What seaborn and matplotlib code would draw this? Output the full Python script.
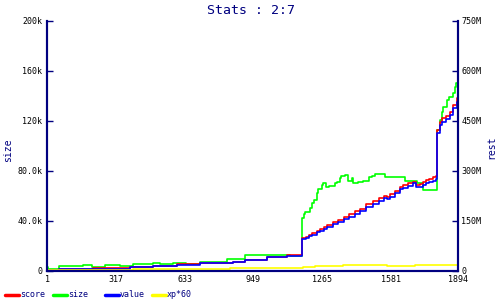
import numpy as np
import pandas as pd
import seaborn as sns
import matplotlib.pyplot as plt
from matplotlib.lines import Line2D

# ---- data (values in thousands) ----
step_x = [1, 55, 212, 381, 488, 596, 703, 856, 910, 1010,
          1102, 1174, 1190, 1205, 1220, 1240, 1255, 1275, 1290, 1315,
          1340, 1365, 1390, 1415, 1440, 1470, 1500, 1530, 1550, 1565,
          1580, 1600, 1623, 1640, 1660, 1685, 1700, 1715, 1730, 1745,
          1760, 1775, 1790, 1797, 1808, 1820, 1838, 1854, 1870, 1885,
          1894]
value_k = [0.6, 1.1, 1.6, 2.7, 3.8, 4.8, 5.9, 7.2, 8.6, 10.7,
           11.8, 25.0, 26.0, 27.5, 28.6, 30.5, 32.0, 33.5, 34.7, 37.0,
           39.2, 41.0, 43.2, 45.5, 47.5, 51.0, 53.5, 56.0, 57.9, 57.2,
           59.0, 62.0, 65.0, 66.5, 68.0, 70.0, 66.7, 66.7, 68.5, 69.8,
           71.0, 72.0, 73.0, 110.0, 116.6, 119.0, 121.0, 124.6, 130.0, 135.0,
           138.0]
score_k = [0.6, 1.1, 2.1, 2.7, 3.8, 5.4, 5.9, 7.2, 8.6, 10.7,
           12.3, 26.0, 27.2, 28.8, 30.0, 32.0, 33.6, 35.0, 36.3, 38.6,
           40.8, 42.8, 45.0, 47.3, 49.4, 53.0, 55.5, 58.0, 60.0, 59.3,
           61.0, 64.0, 67.0, 68.6, 70.2, 71.2, 68.5, 69.0, 71.0, 72.3,
           73.5, 74.7, 75.8, 112.6, 119.0, 122.0, 124.0, 127.0, 132.6, 138.0,
           139.8]

size_x = [1, 5, 55, 163, 204, 266, 335, 396, 488, 519,
          580, 640, 703, 826, 910, 1117, 1175, 1180, 1186, 1209,
          1217, 1228, 1240, 1248, 1263, 1271, 1283, 1298, 1325, 1333,
          1347, 1351, 1371, 1386, 1402, 1409, 1432, 1455, 1483, 1494,
          1509, 1532, 1555, 1647, 1701, 1729, 1797, 1808, 1816, 1823,
          1839, 1851, 1869, 1877, 1882, 1894]
size_k = [2.7, 1.6, 3.8, 4.3, 3.2, 4.6, 4.0, 5.4, 6.4, 5.4,
          5.9, 5.4, 6.7, 9.1, 12.6, 11.8, 41.9, 45.0, 47.2, 49.9,
          53.9, 56.6, 61.9, 65.1, 68.6, 69.9, 67.2, 68.0, 69.9, 71.2,
          73.9, 75.8, 76.6, 72.0, 74.0, 70.4, 71.2, 72.0, 74.7, 75.8,
          77.4, 77.0, 74.7, 72.0, 70.0, 64.6, 112.6, 120.6, 127.0, 131.0,
          136.6, 139.0, 142.0, 147.0, 150.0, 150.0]

xp_x = [1, 396, 841, 1179, 1233, 1363, 1563, 1693, 1894]
xp_k = [0.6, 1.1, 1.9, 3.2, 3.8, 4.6, 3.8, 4.3, 4.3]

x_ticks = [1, 317, 633, 949, 1265, 1581, 1894]
left_ticks = [0, 40000, 80000, 120000, 160000, 200000]
left_labels = ["0", "40.0k", "80.0k", "120k", "160k", "200k"]
right_ticks = [0, 150e6, 300e6, 450e6, 600e6, 750e6]
right_labels = ["0", "150M", "300M", "450M", "600M", "750M"]

navy = "#000080"
series = [
    ("size", size_x, size_k, "#00ff00"),
    ("score", step_x, score_k, "#ff0000"),
    ("value", step_x, value_k, "#0000ff"),
    ("xp*60", xp_x, xp_k, "#ffff00"),
]

sns.set_theme(style="white")
plt.rcParams['font.family'] = ['DejaVu Sans Mono']

fig = plt.figure(figsize=(5, 3), dpi=100)
ax = fig.add_axes([0.093, 0.098, 0.824, 0.833])

for name, xs, ys, col in series:
    df = pd.DataFrame({"x": xs, "y": np.array(ys) * 1000})
    sns.lineplot(data=df, x="x", y="y", ax=ax, color=col, linewidth=1.2,
                 drawstyle="steps-post", estimator=None)

ax.set_xlim(-4, 1894)
ax.set_ylim(0, 200000)
ax.set_xlabel("")
ax.set_ylabel("")
ax.set_xticks(x_ticks)
ax.set_xticklabels([str(t) for t in x_ticks])
ax.set_yticks(left_ticks)
ax.set_yticklabels(left_labels)
ax.tick_params(direction="in", length=4, width=1, color=navy,
               labelsize=6, labelcolor="black", pad=3)

ax2 = ax.twinx()
ax2.set_ylim(0, 750e6)
ax2.set_yticks(right_ticks)
ax2.set_yticklabels(right_labels)
ax2.tick_params(direction="in", length=4, width=1, color=navy,
                labelsize=6, labelcolor="black", pad=2)

for a in (ax, ax2):
    a.spines["top"].set_visible(False)
    for s in ("left", "right", "bottom"):
        a.spines[s].set_color(navy)
        a.spines[s].set_linewidth(1.5)
ax2.grid(False)
ax.grid(False)

fig.text(0.502, 0.965, "Stats : 2:7", ha="center", va="center",
         color=navy, fontsize=9.5)
fig.text(0.017, 0.5, "size", rotation=90, ha="center", va="center",
         color=navy, fontsize=7)
fig.text(0.983, 0.51, "rest", rotation=90, ha="center", va="center",
         color=navy, fontsize=7)

# legend row along the bottom
leg_x = [5, 53, 105, 152]
for (name, xs, ys, col), lx in zip([series[1], series[0], series[2], series[3]], leg_x):
    fig.add_artist(Line2D([lx / 500, (lx + 14) / 500], [0.017, 0.017],
                          color=col, linewidth=2.5, transform=fig.transFigure))
    fig.text((lx + 15) / 500, 0.017, name, ha="left", va="center",
             color=navy, fontsize=6)

fig.savefig("out.png", dpi=100)
